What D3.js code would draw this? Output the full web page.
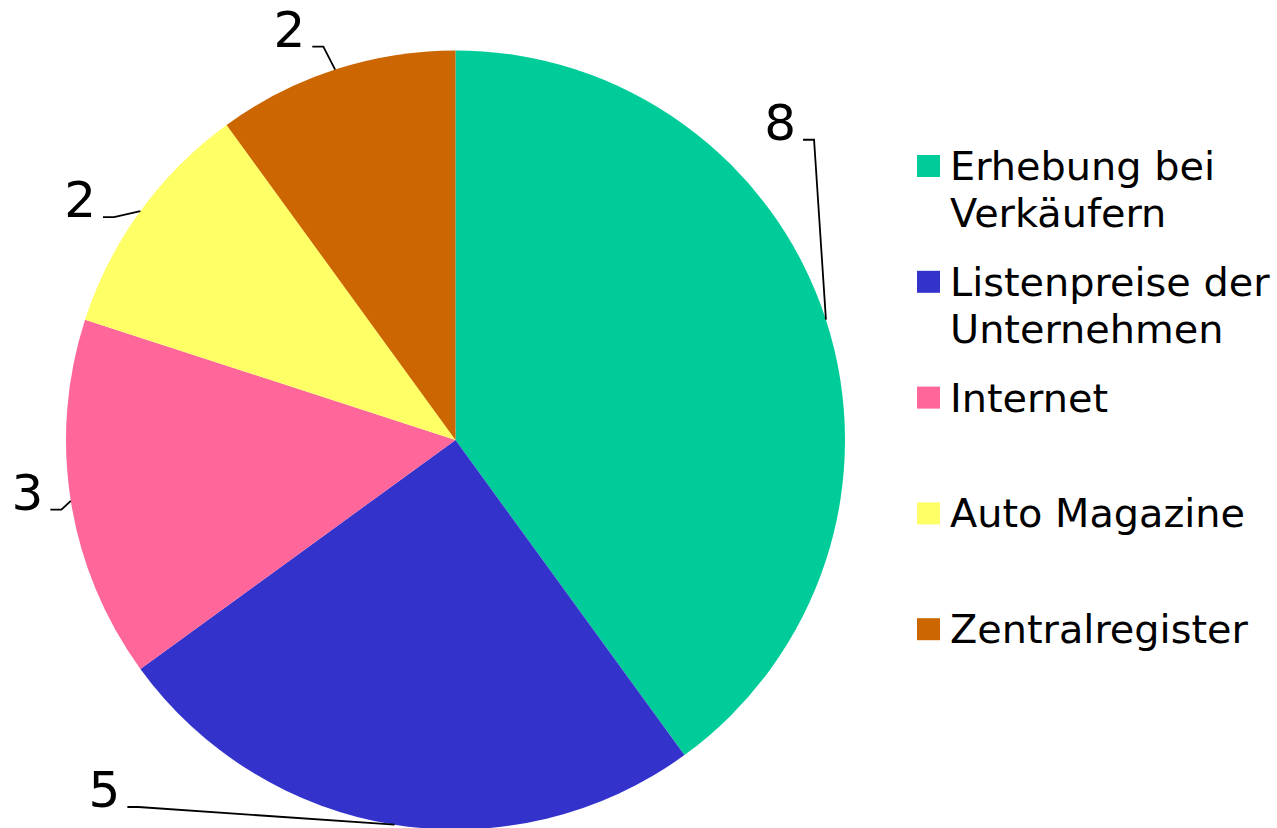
<!DOCTYPE html>
<html><head><meta charset="utf-8">
<script src="https://cdn.jsdelivr.net/npm/d3@7"></script>
<style>html,body{margin:0;padding:0;background:#fff;overflow:hidden}</style>
</head><body>
<svg id="chart" width="1277" height="828"></svg>
<script>
// ---- data ----
const categories = ["Erhebung bei Verkäufern", "Listenpreise der Unternehmen", "Internet", "Auto Magazine", "Zentralregister"];
const legendLines = [["Erhebung bei", "Verkäufern"], ["Listenpreise der", "Unternehmen"], ["Internet"], ["Auto Magazine"], ["Zentralregister"]];
const values = [8, 5, 3, 2, 2];
const colors = ["#00CC99", "#3333CC", "#FF6699", "#FFFF66", "#CC6600"];

// ---- layout (label placement in polar terms: angle in degrees clockwise from top, radius in px) ----
const labelLayout = [
  {angle: 48.6, radius: 454},
  {angle: 222.4, radius: 497},
  {angle: 260.4, radius: 418},
  {angle: 301.8, radius: 423},
  {angle: 339.1, radius: 421}
];

const svg = d3.select("#chart");
const cx = 455.5, cy = 440, R = 389.5;
const font = "DejaVu Sans, Verdana, sans-serif";

const pie = d3.pie().sort(null).value(d => d).startAngle(0).endAngle(2 * Math.PI);
const arcs = pie(values);
const arc = d3.arc().innerRadius(0).outerRadius(R);

const g = svg.append("g").attr("transform", `translate(${cx},${cy})`);
g.selectAll("path.slice").data(arcs).enter().append("path")
  .attr("class", "slice")
  .attr("d", arc)
  .attr("fill", (d, i) => colors[i]);

// labels with leader lines
const polar = (a, r) => [r * Math.sin(a), -r * Math.cos(a)];
arcs.forEach((d, i) => {
  const mid = (d.startAngle + d.endAngle) / 2;
  const edge = polar(mid, R);
  const L = labelLayout[i];
  const [lx, ly] = polar(L.angle * Math.PI / 180, L.radius);
  g.append("text")
    .attr("x", lx).attr("y", ly)
    .attr("text-anchor", "end")
    .attr("font-family", font)
    .attr("font-size", 50)
    .attr("fill", "#000")
    .text(values[i]);
  const pts = [[lx + 7, ly], [lx + 18, ly], edge];
  g.append("path")
    .attr("d", d3.line()(pts))
    .attr("fill", "none")
    .attr("stroke", "#000")
    .attr("stroke-width", 1.8);
});

// legend
const legend = svg.append("g").attr("transform", "translate(917,0)");
categories.forEach((c, i) => {
  const base = 180 + i * 115.8;
  legend.append("rect")
    .attr("x", 0).attr("y", base - 25)
    .attr("width", 23).attr("height", 22)
    .attr("fill", colors[i]);
  const t = legend.append("text")
    .attr("font-family", font)
    .attr("font-size", 39.8)
    .attr("fill", "#000");
  legendLines[i].forEach((ln, j) => {
    t.append("tspan").attr("x", 33).attr("y", base + j * 47).text(ln);
  });
});
</script>
</body></html>
